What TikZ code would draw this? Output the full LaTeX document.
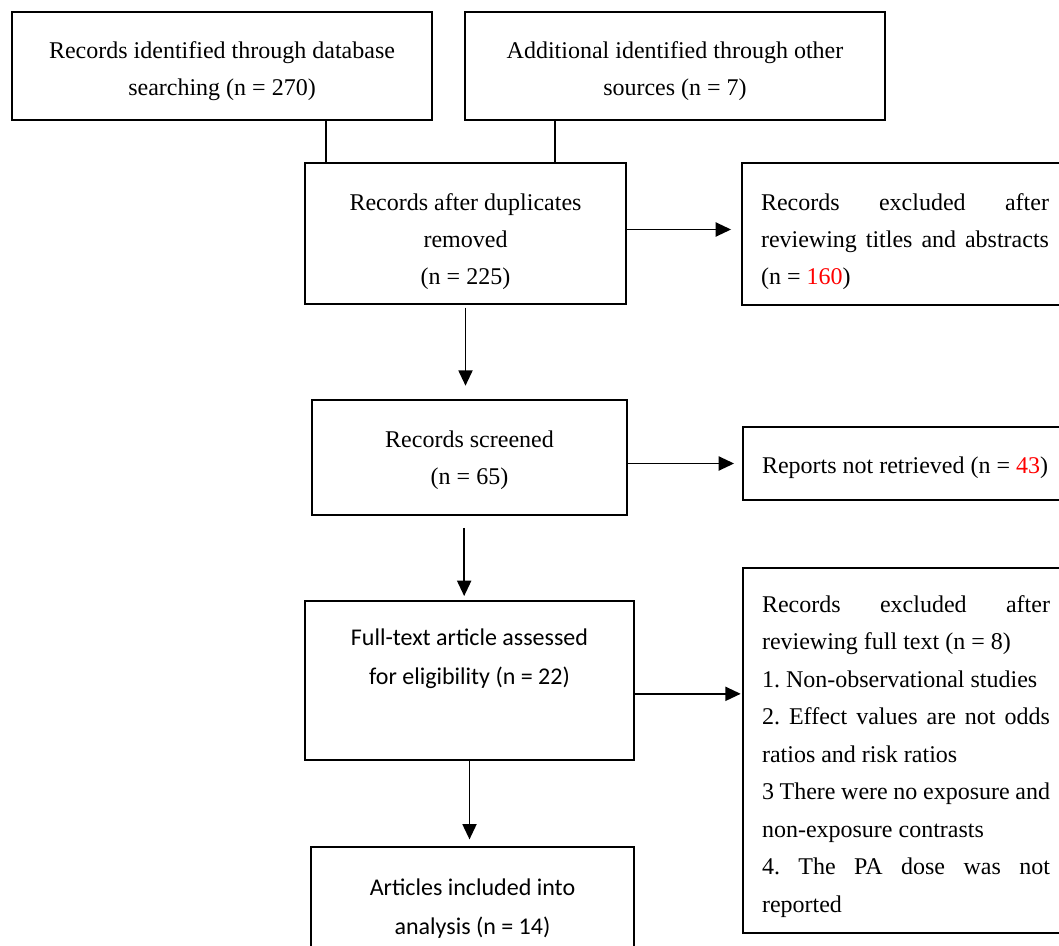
\documentclass[tikz,border=0pt]{standalone}
\usepackage{fontspec}
\setmainfont{Liberation Serif}
\newfontfamily\calibri{Carlito}
\usepackage{tikz}
\usetikzlibrary{positioning,arrows.meta}
\newcommand{\padtop}[1]{\rule{0pt}{#1}}

\begin{document}
\begin{tikzpicture}[
    x=0.75pt, y=-0.75pt,
    box/.style={rectangle, draw=black, line width=1.4pt, align=center, inner sep=0pt, font=\fontsize{18}{27.75}\selectfont},
    sidebox/.style={box, align=justify, text width=216pt, minimum width=244.5pt, execute at begin node={\frenchspacing\tolerance=10000\hyphenpenalty=10000}},
    sansbox/.style={box, font=\calibri\fontsize{18}{29.25}\selectfont},
    arrow/.style={-{Triangle[length=11.5pt,width=10.5pt]}, line width=1.4pt},
    link/.style={line width=1.4pt}
]
\useasboundingbox (0,0) rectangle (1059,945);
\clip (0,0) rectangle (1059,945);

% Nodes
\node[box, minimum width=315pt, minimum height=81pt] (database) at (222,66) {\padtop{20pt}Records identified through database\\searching (n = 270)};
\node[box, minimum width=315pt, minimum height=81pt] (other) at (675,66) {\padtop{20pt}Additional identified through other\\sources (n = 7)};
\node[box, minimum width=240.75pt, minimum height=105.75pt] (dedup) at (465.5,233.5) {\padtop{24.5pt}Records after duplicates\\removed\\(n = 225)};
\node[sidebox, minimum height=106.5pt] (titles) at (905,234) {\padtop{24.5pt}Records excluded after\linebreak reviewing titles and abstracts\linebreak (n = \textcolor{red}{160})};
\node[box, minimum width=236.25pt, minimum height=86.25pt] (screened) at (469.5,457.5) {\padtop{16.5pt}Records screened\\(n = 65)};
\node[sidebox, minimum height=54.75pt] (retrieved) at (906,463.5) {\padtop{18.5pt}Reports not retrieved (n = \textcolor{red}{43})};
\node[sansbox, minimum width=246.75pt, minimum height=119.25pt] (fulltext) at (469.5,680.5) {Full-text article assessed\\for eligibility (n = 22)\\\rule[-6pt]{0pt}{6pt}};
\node[sidebox, minimum height=273.75pt, font=\fontsize{18}{28.1}\selectfont] (fullexcl) at (906,750.5) {\padtop{21.5pt}Records excluded after\linebreak reviewing full text (n = 8)\\1. Non-observational studies\\2. Effect values are not odds\linebreak ratios and risk ratios\\3 There were no exposure and\linebreak non-exposure contrasts\\4. The PA dose was not\linebreak reported};
\node[sansbox, minimum width=242.25pt, minimum height=85.5pt] (included) at (472.5,904) {\padtop{19pt}Articles included into\\analysis (n = 14)};

% Arrows
\coordinate (mergeleft) at ([xshift=16.5pt]dedup.north west);
\coordinate (mergeright) at ([xshift=-54pt]dedup.north east);
\draw[link] (mergeleft) -- (mergeleft |- database.south);
\draw[link] (mergeright) -- (mergeright |- other.south);
\draw[arrow, shorten >=7.5pt] ([yshift=3pt]dedup.east) -- ([yshift=3pt]dedup.east -| titles.west);
\draw[arrow, shorten <=2pt, shorten >=10pt] (dedup.south) -- (dedup.south |- screened.north);
\draw[arrow, shorten >=6pt] (retrieved.west -| screened.east) -- (retrieved.west);
\draw[arrow, shorten <=9pt, shorten >=3pt] ([xshift=-4pt]screened.south) -- ([xshift=-4pt]screened.south |- fulltext.north);
\draw[arrow, shorten >=1pt] ([yshift=-10pt]fulltext.east) -- ([yshift=-10pt]fulltext.east -| fullexcl.west);
\draw[arrow, shorten >=5pt] (fulltext.south) -- (fulltext.south |- included.north);

\end{tikzpicture}
\end{document}
